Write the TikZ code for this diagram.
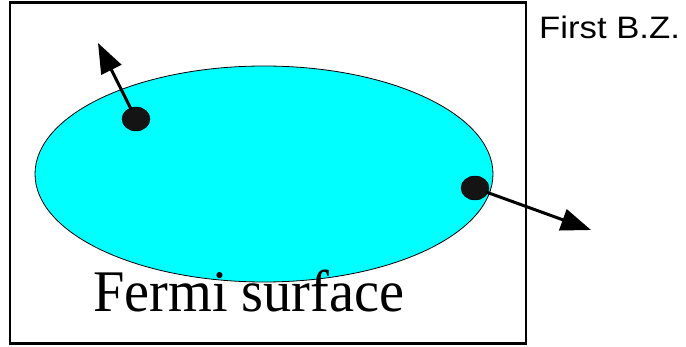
\documentclass[tikz,border=0pt]{standalone}
\usepackage{fontspec}
\setmainfont{Liberation Serif}
\setsansfont{Liberation Sans}
\usetikzlibrary{arrows.meta,shapes.geometric}
\definecolor{fermiblue}{RGB}{0,255,255}

\begin{document}
\begin{tikzpicture}[x=1pt, y=-1pt, >={Triangle[length=30pt, width=22pt]},
	electron/.style={ellipse, fill=black!92, draw=black, inner sep=0pt, minimum width=28pt, minimum height=24pt},
	kick/.style={->, line width=3pt, shorten <=-2pt}]
	\useasboundingbox (0,0) rectangle (686,347);
	\node[draw, line width=2.5pt, minimum width=516pt, minimum height=341pt, inner sep=0pt] (BZ) at (268,173) {};
	\node[ellipse, fill=fermiblue, draw=black, line width=0.8pt, minimum width=458pt, minimum height=216pt, inner sep=0pt] (FS) at (264,174) {};
	\node[electron] (e1) at (136,119) {};
	\node[electron] (e2) at (475,188) {};
	\coordinate (k1) at (98,43);
	\coordinate (k2) at (591,230);
	\draw[kick] (e1) -- (k1);
	\draw[kick] (e2) -- (k2);
	\node[anchor=base west, xscale=1.12, font=\sffamily\fontsize{31}{34}\selectfont, inner sep=0pt] (label BZ) at (539,39) {First B.Z.};
	\node[anchor=base west, xscale=0.955, font=\fontsize{59}{66}\selectfont, inner sep=0pt] (label FS) at (93,312) {Fermi surface};
\end{tikzpicture}
\end{document}
